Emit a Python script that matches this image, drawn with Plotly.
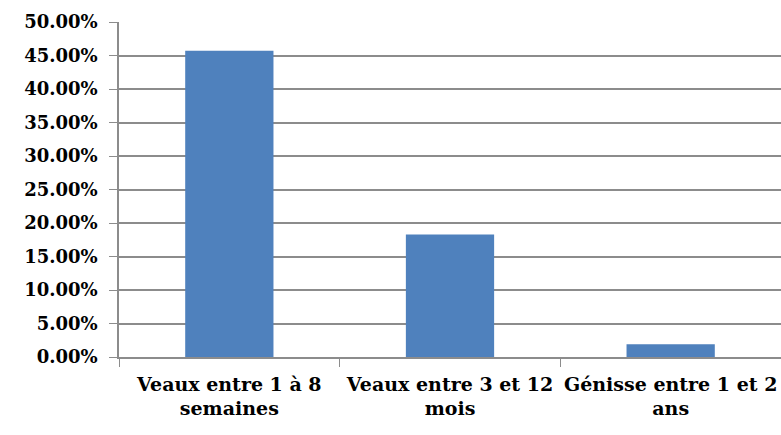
import plotly.graph_objects as go

categories = ["Veaux entre 1 à 8<br>semaines", "Veaux entre 3 et 12<br>mois", "Génisse entre 1 et 2<br>ans"]
values = [0.457, 0.183, 0.019]
y_ticks = [0, 0.05, 0.10, 0.15, 0.20, 0.25, 0.30, 0.35, 0.40, 0.45, 0.50]

fig = go.Figure(go.Bar(x=categories, y=values, marker=dict(color="#4F81BD", line=dict(width=0)), width=0.4))

yfont = dict(family="DejaVu Serif", size=18, color="black", weight=700)
xfont = dict(family="DejaVu Serif", size=19, color="black", weight=700)
fig.update_layout(
    width=781, height=435,
    margin=dict(l=119, r=0, t=22, b=78),
    paper_bgcolor="white", plot_bgcolor="white",
    showlegend=False,
    font=yfont,
)
fig.update_yaxes(
    range=[0, 0.5], tickvals=y_ticks, tickformat=".2%",
    showgrid=True, gridcolor="#8C8C8C", gridwidth=1.5,
    showline=True, linecolor="#8C8C8C", linewidth=1.5,
    ticks="outside", ticklen=8, tickcolor="#8C8C8C",
    tickfont=yfont, ticklabelstandoff=8, zeroline=False, automargin=False,
)
fig.update_xaxes(
    showline=True, linecolor="#8C8C8C", linewidth=1.5,
    ticks="outside", ticklen=8, tickcolor="#8C8C8C", tickson="boundaries",
    tickfont=xfont, showgrid=False, ticklabelstandoff=9,
    tickangle=0, automargin=False,
)
fig.write_html("out.html")
